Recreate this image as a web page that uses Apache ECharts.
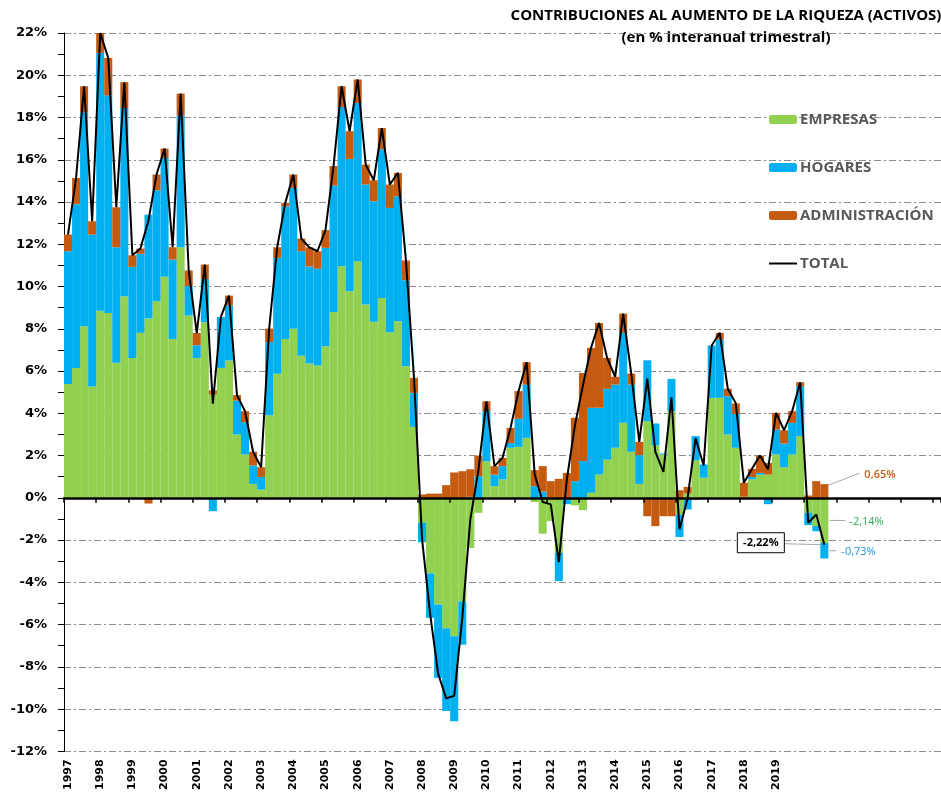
<!DOCTYPE html>
<html lang="es">
<head>
<meta charset="UTF-8">
<title>Contribuciones al aumento de la riqueza</title>
<script src="https://cdn.jsdelivr.net/npm/echarts@6.0.0/dist/echarts.min.js"></script>
<style>
  html, body { margin: 0; padding: 0; background: #fff; }
  #chart { width: 941px; height: 793px; }
</style>
</head>
<body>
<div id="chart"></div>
<script>
  // trimestres desde 1997-T1 hasta 2020-T3
  var firstYear = 1997;
  var yearLabels = ['1997', '1998', '1999', '2000', '2001', '2002', '2003', '2004', '2005', '2006', '2007', '2008',
    '2009', '2010', '2011', '2012', '2013', '2014', '2015', '2016', '2017', '2018', '2019'];

  var empresas = [
    5.39, 6.15, 8.12, 5.27, 8.86, 8.75, 6.39, 9.54, 6.62, 7.81, 8.49, 9.31, 10.46, 7.52, 11.86, 8.63,
    6.62, 8.31, 4.89, 6.15, 6.50, 3.00, 2.05, 0.66, 0.39, 3.91, 5.87, 7.52, 8.00, 6.73, 6.36, 6.26,
    7.18, 8.79, 10.96, 9.78, 11.20, 9.15, 8.33, 9.46, 7.84, 8.36, 6.23, 3.36, -1.18, -3.58, -5.05, -6.18,
    -6.55, -4.90, -2.37, -0.71, 1.73, 0.55, 0.87, 2.37, 2.41, 2.84, -0.20, -1.70, -1.10, -2.60, -0.05, -0.36,
    -0.58, 0.24, 1.10, 1.81, 2.37, 3.55, 2.18, 0.66, 3.63, 2.48, 2.05, 4.10, -0.79, 0.20, 1.77, 0.95,
    4.73, 4.73, 3.00, 2.37, 0.05, 0.87, 1.10, 1.10, 2.05, 1.45, 2.05, 2.92, -0.71, -1.34, -2.14
  ];
  var hogares = [
    6.28, 7.75, 10.13, 7.19, 12.20, 10.30, 5.47, 8.91, 4.31, 3.74, 4.91, 5.25, 5.63, 3.76, 6.24, 1.39,
    0.60, 2.05, -0.63, 2.41, 2.60, 1.60, 1.53, 0.87, 0.60, 3.46, 5.49, 6.28, 6.67, 4.94, 4.59, 4.59,
    4.65, 5.99, 7.54, 6.26, 7.49, 5.68, 5.71, 7.04, 5.88, 5.91, 4.07, 1.61, -0.92, -2.10, -3.47, -3.91,
    -4.02, -2.05, 0.05, 1.02, 2.37, 0.55, 0.63, 0.23, 1.33, 2.52, 0.55, 0.30, 0.00, -1.34, -0.25, 0.79,
    1.74, 4.02, 3.16, 3.35, 2.99, 4.26, 3.18, 1.36, 2.88, 1.04, 0.05, 1.53, -1.06, -0.55, 1.15, 0.63,
    2.48, 2.76, 1.81, 1.60, 0.00, 0.11, 0.08, -0.30, 1.18, 1.12, 1.50, 2.36, -0.58, -0.24, -0.73
  ];
  var administracion = [
    0.79, 1.24, 1.23, 0.63, 0.94, 1.77, 1.89, 1.22, 0.55, 0.25, -0.27, 0.74, 0.44, 0.58, 1.03, 0.74,
    0.58, 0.68, 0.20, 0.00, 0.47, 0.26, 0.52, 0.65, 0.46, 0.64, 0.50, 0.16, 0.63, 0.60, 0.90, 0.82,
    0.84, 0.92, 0.98, 1.31, 1.11, 0.94, 0.99, 1.00, 1.11, 1.11, 0.93, 0.71, 0.16, 0.20, 0.20, 0.60,
    1.20, 1.26, 1.30, 0.98, 0.47, 0.40, 0.39, 0.71, 1.31, 1.06, 0.76, 1.20, 0.79, 0.90, 1.18, 3.00,
    4.17, 2.84, 4.02, 1.46, 0.37, 0.91, 0.52, 0.63, -0.87, -1.34, -0.87, -0.87, 0.36, 0.32, -0.10, -0.05,
    0.00, 0.32, 0.35, 0.50, 0.66, 0.39, 0.82, 0.55, 0.79, 0.63, 0.55, 0.19, 0.11, 0.79, 0.65
  ];
  var total = [
    12.46, 15.14, 19.48, 13.09, 22.00, 20.82, 13.75, 19.67, 11.48, 11.80, 13.13, 15.30, 16.53, 11.86, 19.13, 10.76,
    7.80, 11.04, 4.46, 8.56, 9.57, 4.86, 4.10, 2.18, 1.45, 8.01, 11.86, 13.96, 15.30, 12.27, 11.85, 11.67,
    12.67, 15.70, 19.48, 17.35, 19.80, 15.77, 15.03, 17.50, 14.83, 15.38, 11.23, 5.68, -1.94, -5.48, -8.32, -9.49,
    -9.37, -5.69, -1.02, 1.29, 4.57, 1.50, 1.89, 3.31, 5.05, 6.42, 1.11, -0.20, -0.31, -3.04, 0.88, 3.43,
    5.33, 7.10, 8.28, 6.62, 5.73, 8.72, 5.88, 2.65, 5.64, 2.18, 1.23, 4.76, -1.49, -0.03, 2.82, 1.53,
    7.21, 7.81, 5.16, 4.47, 0.71, 1.37, 2.00, 1.35, 4.02, 3.20, 4.10, 5.47, -1.18, -0.79, -2.22
  ];

  // el eje sigue unos trimestres más allá del último dato
  var nSlots = 109;
  var quarters = [];
  for (var i = 0; i < nSlots; i++) {
    quarters.push((firstYear + Math.floor(i / 4)) + '-T' + (i % 4 + 1));
  }

  var cGreen = '#92D050', cBlue = '#00B0F0', cOrange = '#C55A11';
  var labelFont = 'DejaVu Sans';
  var textFont = 'Open Sans';

  var chart = echarts.init(document.getElementById('chart'));

  var option = {
    animation: false,
    title: {
      text: 'CONTRIBUCIONES AL AUMENTO DE LA RIQUEZA (ACTIVOS)\n(en % interanual trimestral)',
      left: 721,
      top: 0,
      textAlign: 'center',
      textStyle: { fontFamily: textFont, fontSize: 15, fontWeight: 'bold', color: '#000', lineHeight: 22 }
    },
    legend: {
      orient: 'vertical',
      left: 769,
      top: 112,
      padding: 0,
      itemWidth: 28,
      itemHeight: 9,
      itemGap: 33,
      data: [
        'EMPRESAS', 'HOGARES', 'ADMINISTRACIÓN',
        { name: 'TOTAL', icon: 'path://M0,0 L28,0 L28,2 L0,2 Z', itemStyle: { color: '#000' } }
      ],
      textStyle: { fontFamily: textFont, fontSize: 15, fontWeight: 'bold', color: '#595959', padding: [0, 0, 0, -2] }
    },
    grid: { left: 64, right: 0, top: 33, bottom: 40 },
    xAxis: [
      {
        type: 'category',
        data: quarters,
        position: 'bottom',
        axisLine: { show: false, onZero: false },
        axisTick: { show: false },
        axisLabel: {
          interval: 3,
          rotate: 90,
          margin: 8,
          fontFamily: labelFont,
          fontSize: 11,
          fontWeight: 'bold',
          color: '#000',
          formatter: function (val) {
            var y = val.slice(0, 4);
            return yearLabels.indexOf(y) >= 0 ? y : '';
          }
        },
        splitLine: { show: false }
      },
      {
        // línea del cero con las marcas de año
        type: 'category',
        data: quarters,
        position: 'top',
        z: 5,
        axisLine: { onZero: true, lineStyle: { color: '#000', width: 2.5 } },
        axisTick: { show: true, inside: true, interval: 3, length: 5, lineStyle: { color: '#000', width: 1.5 } },
        axisLabel: { show: false },
        splitLine: { show: false }
      }
    ],
    yAxis: {
      type: 'value',
      min: -12,
      max: 22,
      interval: 2,
      axisLine: { show: true, lineStyle: { color: '#000', width: 1 } },
      axisTick: { show: true, length: 6, lineStyle: { color: '#000' } },
      minorTick: { show: true, splitNumber: 2, length: 6, lineStyle: { color: '#000' } },
      axisLabel: {
        margin: 17,
        fontFamily: labelFont,
        fontSize: 13,
        fontWeight: 'bold',
        color: '#000',
        formatter: function (v) { return v + '%'; }
      },
      splitLine: { show: true, lineStyle: { color: '#8c8c8c', width: 1, type: [7, 3, 2, 3] } }
    },
    series: [
      {
        name: 'EMPRESAS', type: 'bar', stack: 'c', barCategoryGap: '0%',
        itemStyle: { color: cGreen }, data: empresas
      },
      {
        name: 'HOGARES', type: 'bar', stack: 'c', barCategoryGap: '0%',
        itemStyle: { color: cBlue }, data: hogares
      },
      {
        name: 'ADMINISTRACIÓN', type: 'bar', stack: 'c', barCategoryGap: '0%',
        itemStyle: { color: cOrange }, data: administracion
      },
      {
        name: 'TOTAL', type: 'line', symbol: 'none', z: 4,
        lineStyle: { color: '#000', width: 2 }, itemStyle: { color: '#000' },
        data: total
      }
    ]
  };

  chart.setOption(option);

  // etiquetas del último trimestre
  function fmt(v) { return v.toFixed(2).replace('.', ',') + '%'; }
  function px(i, v) { return chart.convertToPixel({ xAxisIndex: 0, yAxisIndex: 0 }, [i, v]); }

  var last = total.length - 1;
  var hw = (px(last + 1, 0)[0] - px(last, 0)[0]) / 2;
  var lead = { stroke: '#a6a6a6', lineWidth: 1 };
  var annFont = 'normal 11px "Open Sans"';

  var pO = px(last, administracion[last] * 0.92);
  var pG = px(last, empresas[last] / 2);
  var pB = px(last, empresas[last] + hogares[last] / 2);
  var pT = px(last, total[last]);

  chart.setOption({
    graphic: [
      { type: 'line', shape: { x1: pO[0] + hw, y1: pO[1], x2: pO[0] + hw + 31, y2: pO[1] - 12 }, style: lead },
      { type: 'text', x: pO[0] + hw + 36, y: pO[1] - 10, style: { text: fmt(administracion[last]), fill: cOrange, font: '600 11px "Open Sans"', verticalAlign: 'middle' } },
      { type: 'line', shape: { x1: pG[0] + hw + 1, y1: pG[1], x2: pG[0] + hw + 17, y2: pG[1] }, style: lead },
      { type: 'text', x: pG[0] + hw + 21, y: pG[1] + 1, style: { text: fmt(empresas[last]), fill: '#2fa84f', font: annFont, verticalAlign: 'middle' } },
      { type: 'line', shape: { x1: pB[0] + hw + 1, y1: pB[1], x2: pB[0] + hw + 8, y2: pB[1] }, style: lead },
      { type: 'text', x: pB[0] + hw + 13, y: pB[1] + 1, style: { text: fmt(hogares[last]), fill: '#1f8fd6', font: annFont, verticalAlign: 'middle' } },
      { type: 'line', shape: { x1: pT[0], y1: pT[1], x2: pT[0] - 40, y2: pT[1] - 1 }, style: lead },
      { type: 'rect', shape: { x: pT[0] - 87, y: pT[1] - 12, width: 47, height: 20 }, style: { fill: '#fff', stroke: '#000', lineWidth: 1 } },
      { type: 'text', x: pT[0] - 63.5, y: pT[1] - 2, style: { text: fmt(total[last]), fill: '#000', font: 'bold 11px "Open Sans"', align: 'center', verticalAlign: 'middle' } }
    ]
  });
</script>
</body>
</html>
